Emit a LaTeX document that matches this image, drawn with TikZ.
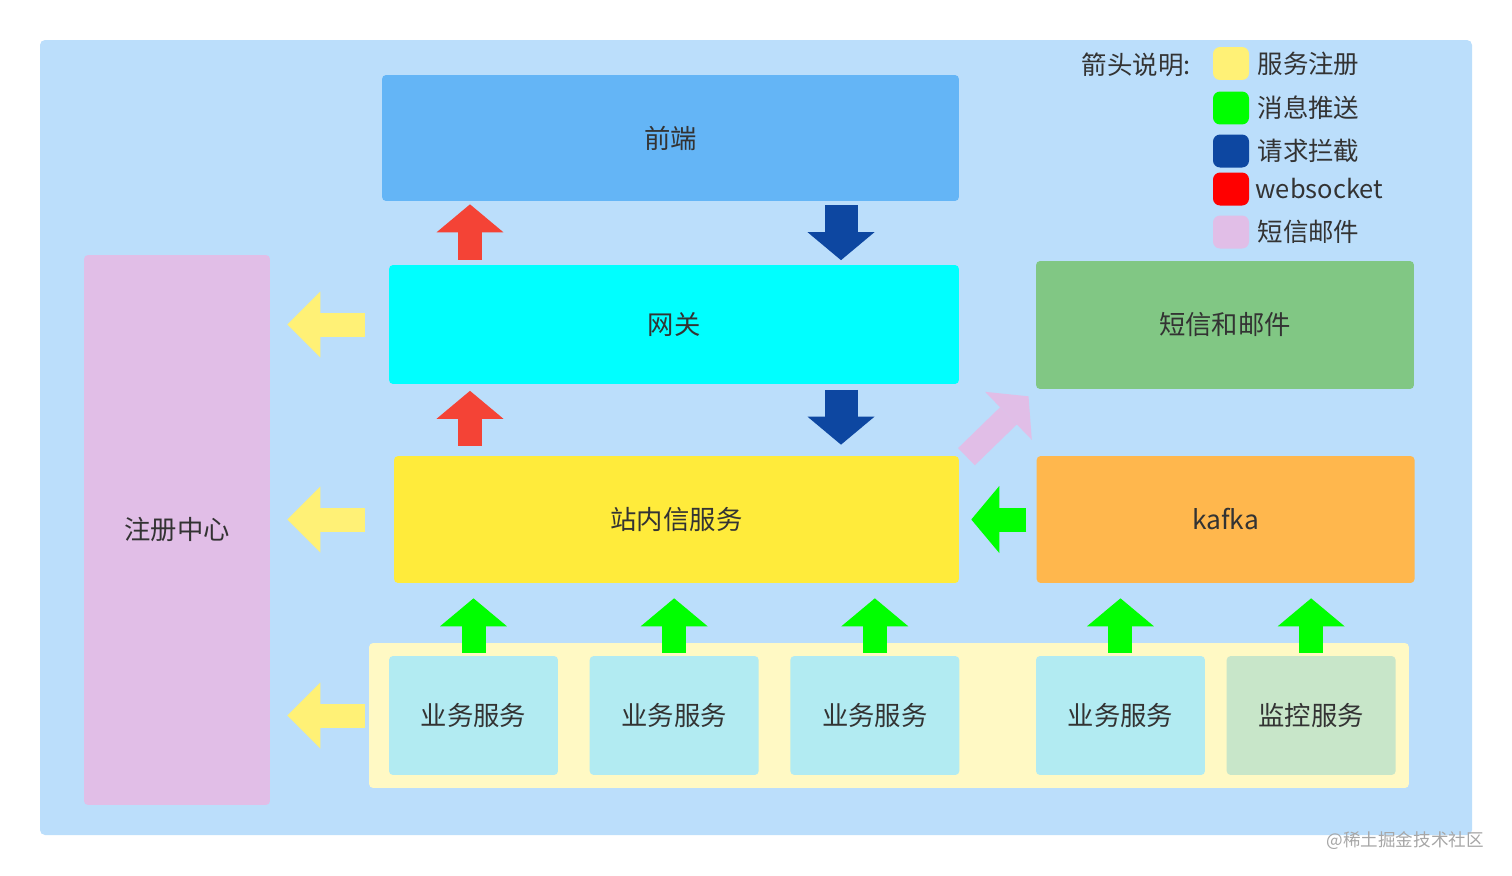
\documentclass[tikz,border=0pt]{standalone}
\usepackage{fontspec}
\setmainfont{Noto Sans CJK SC}
\usetikzlibrary{positioning,arrows.meta}

\definecolor{bgblue}{HTML}{BBDEFB}
\definecolor{feblue}{HTML}{64B5F6}
\definecolor{gwcyan}{HTML}{00FFFF}
\definecolor{smsgreen}{HTML}{81C784}
\definecolor{msgyellow}{HTML}{FFEB3B}
\definecolor{kafkaorange}{HTML}{FFB74D}
\definecolor{regpink}{HTML}{E1BEE7}
\definecolor{poolyellow}{HTML}{FFF9C4}
\definecolor{svccyan}{HTML}{B2EBF2}
\definecolor{mongreen}{HTML}{C8E6C9}
\definecolor{wsred}{HTML}{F44336}
\definecolor{reqblue}{HTML}{0D47A1}
\definecolor{pushgreen}{HTML}{00FF00}
\definecolor{regyellow}{HTML}{FFF176}
\definecolor{txtgray}{HTML}{333333}

\tikzset{
  box/.style={rectangle,rounded corners=0.08cm,text=txtgray,font=\fontsize{15}{18}\selectfont},
  svc/.style={box,fill=svccyan,minimum width=3.38cm,minimum height=2.38cm},
  blk/.style={line width=0.48cm,-{Triangle[width=1.34cm,length=0.56cm,line width=0pt]}},
  fatblk/.style={line width=0.66cm,-{Triangle[width=1.34cm,length=0.56cm,line width=0pt]}},
  longblk/.style={line width=0.48cm,-{Triangle[width=1.32cm,length=0.66cm,line width=0pt]}},
  swatch/.style={rectangle,rounded corners=0.14cm,inner sep=0pt,minimum width=0.72cm,minimum height=0.66cm},
  legtext/.style={text=txtgray,font=\fontsize{14.5}{17}\selectfont}
}

\begin{document}
\begin{tikzpicture}[x=0.02cm,y=-0.02cm]
\useasboundingbox (0,0) rectangle (1512,876);
\fill[bgblue,rounded corners=0.1cm] (40,40) rectangle (1472,835);

% main boxes
\node[box,fill=feblue,minimum width=11.54cm,minimum height=2.52cm] (front) at (670.5,138) {前端};
\node[box,fill=gwcyan,minimum width=11.4cm,minimum height=2.38cm] (gateway) at (674,324.5) {网关};
\node[box,fill=msgyellow,minimum width=11.3cm,minimum height=2.54cm] (inbox) at (676.5,519.5) {站内信服务};
\node[box,fill=kafkaorange,minimum width=7.56cm,minimum height=2.54cm] (kafka) [right=1.54cm of inbox] {kafka};
\node[box,fill=smsgreen,minimum width=7.56cm,minimum height=2.56cm] (sms) at (1225,325) {短信和邮件};
\node[box,fill=regpink,minimum width=3.72cm,minimum height=11cm] (registry) at (177,530) {注册中心};

% services
\node[fill=poolyellow,rounded corners=0.08cm,minimum width=20.8cm,minimum height=2.9cm] (pool) at (889,715.5) {};
\node[svc] (svc1) at (473.5,715.5) {业务服务};
\node[svc] (svc2) [right=0.62cm of svc1] {业务服务};
\node[svc] (svc3) [right=0.62cm of svc2] {业务服务};
\node[svc] (svc4) [right=1.52cm of svc3] {业务服务};
\node[svc,fill=mongreen] (monitor) [right=0.42cm of svc4] {监控服务};

% arrows
\coordinate (ws) at (470,0);
\coordinate (req) at (841,0);
\draw[blk,wsred,shorten <=0.1cm,shorten >=0.06cm] (gateway.north -| ws) -- (front.south -| ws);
\draw[blk,wsred,shorten <=0.2cm,shorten >=0.13cm] (inbox.north -| ws) -- (gateway.south -| ws);
\draw[fatblk,reqblue,shorten <=0.08cm,shorten >=0.09cm] (front.south -| req) -- (gateway.north -| req);
\draw[fatblk,reqblue,shorten <=0.11cm,shorten >=0.22cm] (gateway.south -| req) -- (inbox.north -| req);

\draw[longblk,regyellow,shorten <=0.48cm,shorten >=0.34cm] (gateway.west) -- (registry.east |- gateway.west);
\draw[longblk,regyellow,shorten <=0.58cm,shorten >=0.34cm] (inbox.west) -- (registry.east |- inbox.west);
\draw[longblk,regyellow,shorten <=0.08cm,shorten >=0.34cm] (pool.west) -- (registry.east |- pool.west);

\draw[blk,pushgreen,shorten <=0.2cm,shorten >=0.24cm] (kafka.west) -- (inbox.east);
\draw[blk,regpink,shorten <=0.2cm,shorten >=0.2cm] ([yshift=-0.16cm]inbox.north east) -- (sms.south west);
\foreach \s/\t in {svc1/inbox,svc2/inbox,svc3/inbox,svc4/kafka,monitor/kafka}
  \draw[blk,pushgreen,shorten <=0.06cm,shorten >=0.3cm] (\s.north) -- (\t.south -| \s.north);

% legend
\node[legtext,anchor=east] (legtitle) at (1197,65) {箭头说明:};
\node[swatch,fill=regyellow] (k1) at (1231,63.5) {};
\node[swatch,fill=pushgreen] (k2) at (1231,108) {};
\node[swatch,fill=reqblue] (k3) at (1231,151) {};
\node[swatch,fill=red] (k4) at (1231,189) {};
\node[swatch,fill=regpink] (k5) at (1231,232) {};
\node[legtext,right=0.04cm of k1] (l1) {服务注册};
\node[legtext,right=0.04cm of k2] (l2) {消息推送};
\node[legtext,right=0.04cm of k3] (l3) {请求拦截};
\node[legtext,right=0cm of k4] (l4) {websocket};
\node[legtext,right=0.04cm of k5] (l5) {短信邮件};

\node[text=gray!70,font=\fontsize{10}{12}\selectfont,anchor=east] (mark) at (1490,841) {@稀土掘金技术社区};
\end{tikzpicture}
\end{document}
